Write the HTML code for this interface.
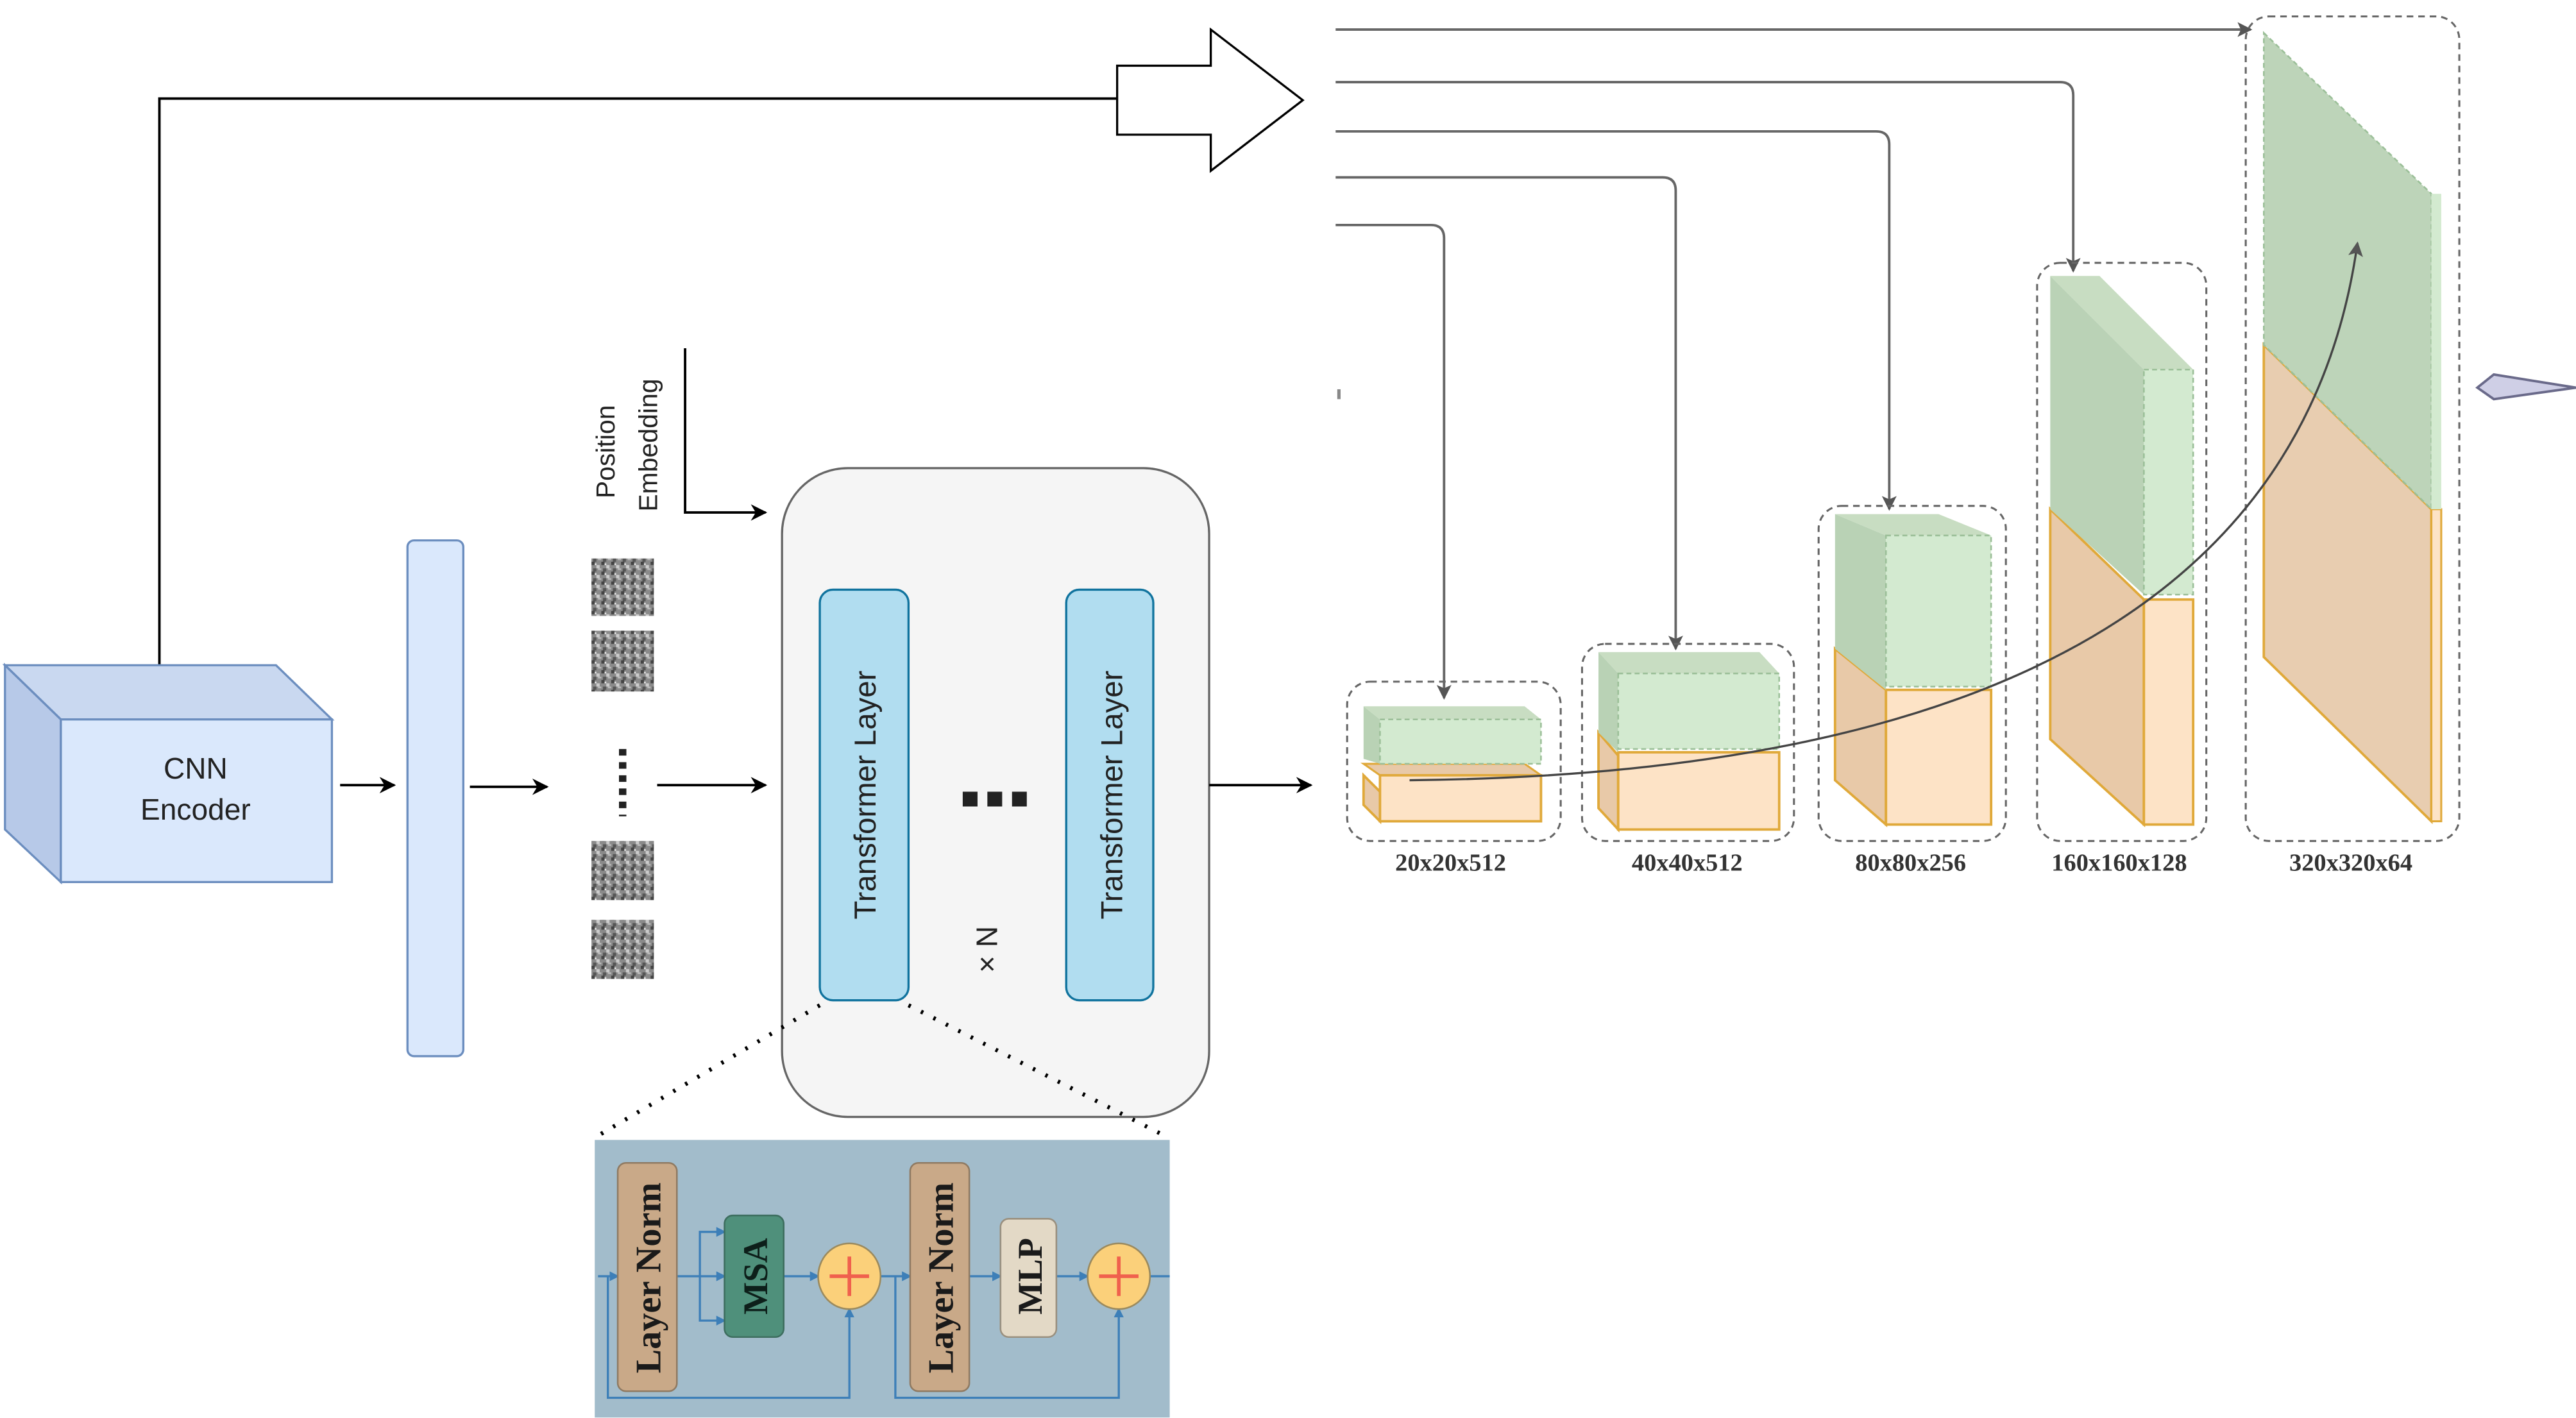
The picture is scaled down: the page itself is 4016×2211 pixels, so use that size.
<!DOCTYPE html>
<html><head><meta charset="utf-8"><style>html,body{margin:0;padding:0;background:#fff}svg{display:block}</style></head>
<body>
<svg width="4016" height="2211" viewBox="0 0 1568 863.3" xmlns="http://www.w3.org/2000/svg" font-family="Liberation Sans, sans-serif">
<defs>
<marker id="ab" markerWidth="10" markerHeight="10" refX="9" refY="5" orient="auto" markerUnits="userSpaceOnUse"><path d="M0,0 L10,5 L0,10 L3,5 Z" fill="#000"/></marker>
<marker id="ag" markerWidth="9" markerHeight="9" refX="8" refY="4.5" orient="auto" markerUnits="userSpaceOnUse"><path d="M0,0 L9,4.5 L0,9 L2,4.5 Z" fill="#555"/></marker>
<marker id="abl" markerWidth="6" markerHeight="6" refX="5" refY="3" orient="auto" markerUnits="userSpaceOnUse"><path d="M0,0 L6,3 L0,6 Z" fill="#3d7fb8"/></marker>
<pattern id="noise" width="6" height="6" patternUnits="userSpaceOnUse"><rect width="6" height="6" fill="#8a8a8a"/><rect x="0" y="0" width="2" height="2" fill="#444"/><rect x="3" y="2" width="2" height="2" fill="#ccc"/><rect x="1" y="4" width="2" height="2" fill="#555"/><rect x="4" y="4" width="2" height="1" fill="#bbb"/><rect x="2" y="1" width="1" height="1" fill="#eee"/></pattern>
</defs>
<rect width="1568" height="863.3" fill="#fff"/>

<polyline points="97,405 97,60 680,60" fill="none" stroke="#000" stroke-width="1.5"/>
<polygon points="680,40 737,40 737,18 793,61 737,104 737,82 680,82" fill="#fff" stroke="#000" stroke-width="1.3"/>

<polygon points="3,405 168,405 202,438 37,438" fill="#c9d8f0" stroke="#6c8ebf" stroke-width="1.3"/>
<polygon points="3,405 37,438 37,537 3,505" fill="#b7c9e8" stroke="#6c8ebf" stroke-width="1.3"/>
<rect x="37" y="438" width="165" height="99" fill="#dae8fc" stroke="#6c8ebf" stroke-width="1.3"/>
<text x="119" y="474" font-size="18" text-anchor="middle" fill="#222">CNN</text>
<text x="119" y="499" font-size="18" text-anchor="middle" fill="#222">Encoder</text>

<line x1="207" y1="478" x2="240" y2="478" stroke="#000" stroke-width="1.5" marker-end="url(#ab)"/>
<rect x="248" y="329" width="34" height="314" rx="4" fill="#dae8fc" stroke="#6c8ebf" stroke-width="1.3"/>
<line x1="286" y1="479" x2="333" y2="479" stroke="#000" stroke-width="1.5" marker-end="url(#ab)"/>

<rect x="360" y="340" width="38" height="35" fill="url(#noise)"/>
<rect x="360" y="384" width="38" height="37" fill="url(#noise)"/>
<rect x="360" y="512" width="38" height="36" fill="url(#noise)"/>
<rect x="360" y="560" width="38" height="36" fill="url(#noise)"/>
<line x1="379" y1="456" x2="379" y2="497" stroke="#222" stroke-width="4.5" stroke-dasharray="4,4"/>
<line x1="400" y1="478" x2="466" y2="478" stroke="#000" stroke-width="1.5" marker-end="url(#ab)"/>

<text transform="translate(374,275) rotate(-90)" font-size="16" text-anchor="middle" fill="#222">Position</text>
<text transform="translate(400,271) rotate(-90)" font-size="16" text-anchor="middle" fill="#222">Embedding</text>
<polyline points="417,212 417,312 466,312" fill="none" stroke="#000" stroke-width="1.5" marker-end="url(#ab)"/>

<rect x="476" y="285" width="260" height="395" rx="40" fill="#f5f5f5" stroke="#666" stroke-width="1.3"/>
<rect x="499" y="359" width="54" height="250" rx="8" fill="#b1ddf0" stroke="#10739e" stroke-width="1.3"/>
<rect x="649" y="359" width="53" height="250" rx="8" fill="#b1ddf0" stroke="#10739e" stroke-width="1.3"/>
<text transform="translate(533,484) rotate(-90)" font-size="18.5" text-anchor="middle" fill="#222">Transformer Layer</text>
<text transform="translate(683,484) rotate(-90)" font-size="18.5" text-anchor="middle" fill="#222">Transformer Layer</text>
<rect x="586" y="482" width="9" height="9" fill="#222"/><rect x="601" y="482" width="9" height="9" fill="#222"/><rect x="616" y="482" width="9" height="9" fill="#222"/>
<text transform="translate(607,578) rotate(-90)" font-size="18" text-anchor="middle" fill="#222">× N</text>
<line x1="736" y1="478" x2="798" y2="478" stroke="#000" stroke-width="1.5" marker-end="url(#ab)"/>

<line x1="499" y1="612" x2="363" y2="692" stroke="#000" stroke-width="2.5" stroke-dasharray="1.5,7"/>
<line x1="553" y1="612" x2="710" y2="692" stroke="#000" stroke-width="2.5" stroke-dasharray="1.5,7"/>

<rect x="362" y="694" width="350" height="169" fill="#a2bccb"/>
<g stroke="#3d7fb8" stroke-width="1.3" fill="none">
<line x1="364" y1="777" x2="376" y2="777" marker-end="url(#abl)"/>
<line x1="412" y1="777" x2="441" y2="777" marker-end="url(#abl)"/>
<polyline points="426,777 426,750 441,750" marker-end="url(#abl)"/>
<polyline points="426,777 426,804 441,804" marker-end="url(#abl)"/>
<line x1="477" y1="777" x2="498" y2="777" marker-end="url(#abl)"/>
<line x1="536" y1="777" x2="554" y2="777" marker-end="url(#abl)"/>
<line x1="590" y1="777" x2="609" y2="777" marker-end="url(#abl)"/>
<line x1="643" y1="777" x2="662" y2="777" marker-end="url(#abl)"/>
<line x1="700" y1="777" x2="712" y2="777"/>
<polyline points="370,777 370,851 517,851 517,797" marker-end="url(#abl)"/>
<polyline points="545,777 545,851 681,851 681,797" marker-end="url(#abl)"/>
</g>
<rect x="376" y="708" width="36" height="139" rx="5" fill="#c9a988" stroke="#8f7a62" stroke-width="1"/>
<text transform="translate(402,778) rotate(-90)" font-family="Liberation Serif, serif" font-weight="bold" font-size="22" text-anchor="middle" fill="#1a1a1a">Layer Norm</text>
<rect x="441" y="740" width="36" height="74" rx="5" fill="#4f907b" stroke="#3d6e5f" stroke-width="1"/>
<text transform="translate(467,777) rotate(-90)" font-family="Liberation Serif, serif" font-weight="bold" font-size="21" text-anchor="middle" fill="#0d1f1a">MSA</text>
<ellipse cx="517" cy="777" rx="19" ry="20" fill="#fbd07a" stroke="#9b8a5e" stroke-width="1"/>
<path d="M505,777 H529 M517,765 V789" stroke="#f0604d" stroke-width="2.2"/>
<rect x="554" y="708" width="36" height="139" rx="5" fill="#c9a988" stroke="#8f7a62" stroke-width="1"/>
<text transform="translate(580,778) rotate(-90)" font-family="Liberation Serif, serif" font-weight="bold" font-size="22" text-anchor="middle" fill="#1a1a1a">Layer Norm</text>
<rect x="609" y="742" width="34" height="72" rx="5" fill="#e3d9c6" stroke="#9a907f" stroke-width="1"/>
<text transform="translate(634,777) rotate(-90)" font-family="Liberation Serif, serif" font-weight="bold" font-size="21" text-anchor="middle" fill="#1a1a1a">MLP</text>
<ellipse cx="681" cy="777" rx="19" ry="20" fill="#fbd07a" stroke="#9b8a5e" stroke-width="1"/>
<path d="M669,777 H693 M681,765 V789" stroke="#f0604d" stroke-width="2.2"/>

<g fill="none" stroke="#666" stroke-width="1.5">
<path d="M813,18 H1370" marker-end="url(#ag)"/>
<path d="M813,50 H1254 Q1262,50 1262,58 V165" marker-end="url(#ag)"/>
<path d="M813,80 H1142 Q1150,80 1150,88 V310" marker-end="url(#ag)"/>
<path d="M813,108 H1012 Q1020,108 1020,116 V395" marker-end="url(#ag)"/>
<path d="M813,137 H871 Q879,137 879,145 V425" marker-end="url(#ag)"/>
</g>
<rect x="814" y="237" width="2" height="6" fill="#888"/>

<g fill="none" stroke="#666" stroke-width="1.2" stroke-dasharray="4,3">
<rect x="820" y="415" width="130" height="97" rx="14"/>
<rect x="963" y="392" width="129" height="120" rx="14"/>
<rect x="1107" y="308" width="114" height="204" rx="14"/>
<rect x="1240" y="160" width="103" height="352" rx="14"/>
<rect x="1367" y="10" width="130" height="502" rx="14"/>
</g>

<polygon points="830,472 840,482 840,500 830,490" fill="#e8c9a8" stroke="#e0a93a" stroke-width="1.5"/>
<polygon points="830,465 928,465 938,472 840,472" fill="#e8c9a8" stroke="#e0a93a" stroke-width="1.2"/>
<rect x="840" y="472" width="98" height="28" fill="#fde3c6" stroke="#e0a93a" stroke-width="1.5"/>
<polygon points="830,430 840,438 840,465 830,462" fill="#b9d2b5"/>
<polygon points="830,430 928,430 938,438 840,438" fill="#c8ddc2"/>
<rect x="840" y="438" width="98" height="27" fill="#d3ead0" stroke="#9bbf98" stroke-width="1" stroke-dasharray="3,2"/>

<polygon points="973,446 985,460 985,505 973,492" fill="#e8c9a8" stroke="#e0a93a" stroke-width="1.5"/>
<rect x="985" y="458" width="98" height="47" fill="#fde3c6" stroke="#e0a93a" stroke-width="1.5"/>
<polygon points="973,397 985,410 985,458 973,446" fill="#b9d2b5"/>
<polygon points="973,397 1071,397 1083,410 985,410" fill="#c8ddc2"/>
<rect x="985" y="410" width="98" height="46" fill="#d3ead0" stroke="#9bbf98" stroke-width="1" stroke-dasharray="3,2"/>

<polygon points="1117,395 1148,420 1148,502 1117,475" fill="#e8c9a8" stroke="#e0a93a" stroke-width="1.5"/>
<rect x="1148" y="420" width="64" height="82" fill="#fde3c6" stroke="#e0a93a" stroke-width="1.5"/>
<polygon points="1117,313 1148,326 1148,420 1117,395" fill="#b9d2b5"/>
<polygon points="1117,313 1180,313 1212,326 1148,326" fill="#c8ddc2"/>
<rect x="1148" y="326" width="64" height="92" fill="#d3ead0" stroke="#9bbf98" stroke-width="1" stroke-dasharray="3,2"/>

<polygon points="1248,310 1305,365 1305,502 1248,450" fill="#e8c9a8" stroke="#e0a93a" stroke-width="1.5"/>
<rect x="1305" y="365" width="30" height="137" fill="#fde3c6" stroke="#e0a93a" stroke-width="1.5"/>
<polygon points="1248,168 1305,225 1305,362 1248,310" fill="#bad2b6"/>
<polygon points="1248,168 1278,168 1335,225 1305,225" fill="#c8ddc2"/>
<rect x="1305" y="225" width="30" height="137" fill="#d3ead0" stroke="#9bbf98" stroke-width="1" stroke-dasharray="3,2"/>

<polygon points="1378,210 1480,310 1480,500 1378,400" fill="#e8cdb0" stroke="#e0a93a" stroke-width="1.5"/>
<rect x="1480" y="310" width="6" height="190" fill="#fde3c6" stroke="#e0a93a" stroke-width="1.2"/>
<polygon points="1378,20 1480,118 1480,310 1378,210" fill="#bdd4b9" stroke="#9bbf98" stroke-width="1" stroke-dasharray="3,2"/>
<rect x="1480" y="118" width="6" height="192" fill="#d3ead0"/>

<path d="M858,475 Q1390,470 1435,148" fill="none" stroke="#444" stroke-width="1.3" marker-end="url(#ag)"/>

<polygon points="1508,236 1518,228 1568,236 1518,243" fill="#cfcfe6" stroke="#6a6a8a" stroke-width="1.5"/>

<g font-family="Liberation Serif, serif" font-weight="bold" font-size="15" fill="#333" text-anchor="middle">
<text x="883" y="530">20x20x512</text>
<text x="1027" y="530">40x40x512</text>
<text x="1163" y="530">80x80x256</text>
<text x="1290" y="530">160x160x128</text>
<text x="1431" y="530">320x320x64</text>
</g>
</svg>
</body></html>
